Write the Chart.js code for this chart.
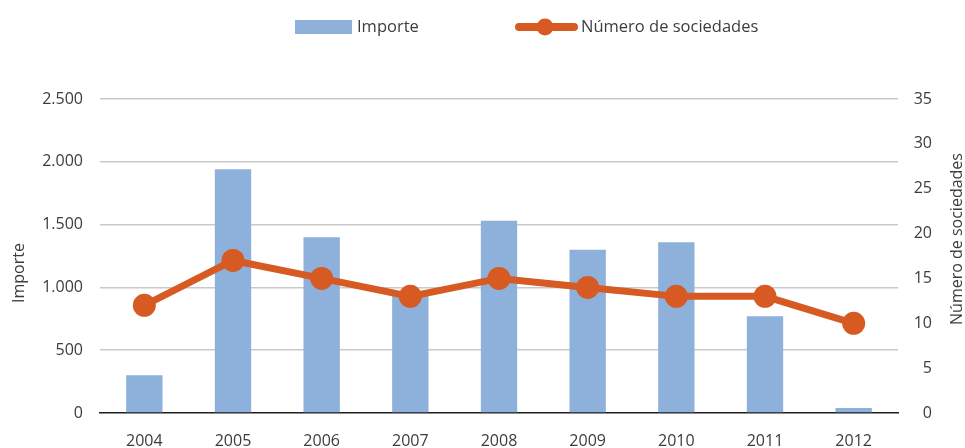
<!DOCTYPE html>
<html>
<head>
<meta charset="utf-8">
<script src="https://cdn.jsdelivr.net/npm/chart.js@4.4.1/dist/chart.umd.min.js"></script>
<style>
  html, body { margin: 0; padding: 0; background: #ffffff; }
  #wrap { width: 965px; height: 448px; position: relative; }
</style>
</head>
<body>
<div id="wrap"><canvas id="c" width="965" height="448"></canvas></div>
<script>
const years = ['2004', '2005', '2006', '2007', '2008', '2009', '2010', '2011', '2012'];
const importe = [300, 1940, 1400, 940, 1530, 1300, 1360, 770, 40];
const sociedades = [12, 17, 15, 13, 15, 14, 13, 13, 10];
const leftTicks = [0, 500, 1000, 1500, 2000, 2500];
const rightTicks = [0, 5, 10, 15, 20, 25, 30, 35];
const seriesNames = ['Importe', 'Número de sociedades'];
const axisTitles = ['Importe', 'Número de sociedades'];

const BAR = '#8db1da';
const LINE = '#d65a22';
const TEXT = '#3c3c3c';
const FONT = "'Open Sans', 'Noto Sans', sans-serif";

function fmt(v) { return String(v).replace(/\B(?=(\d{3})+(?!\d))/g, '.'); }

const decor = {
  id: 'decor',
  afterDraw(chart) {
    const ctx = chart.ctx;
    ctx.save();
    ctx.font = '16px ' + FONT;
    ctx.fillStyle = TEXT;
    ctx.textBaseline = 'middle';
    // axis titles
    ctx.save();
    ctx.translate(19, 273);
    ctx.rotate(-Math.PI / 2);
    ctx.textAlign = 'center';
    ctx.fillText(axisTitles[0], 0, 0);
    ctx.restore();
    ctx.save();
    ctx.translate(957, 239);
    ctx.rotate(-Math.PI / 2);
    ctx.textAlign = 'center';
    ctx.fillText(axisTitles[1], 0, 0);
    ctx.restore();
    // legend
    const ly = 27;
    ctx.font = '16.5px ' + FONT;
    ctx.fillStyle = BAR;
    ctx.fillRect(295, 20, 57, 14);
    ctx.fillStyle = TEXT;
    ctx.textAlign = 'left';
    ctx.fillText(seriesNames[0], 357, ly);
    ctx.strokeStyle = LINE;
    ctx.lineWidth = 8;
    ctx.lineCap = 'round';
    ctx.beginPath();
    ctx.moveTo(519, ly);
    ctx.lineTo(574, ly);
    ctx.stroke();
    ctx.fillStyle = LINE;
    ctx.beginPath();
    ctx.arc(545, ly, 8.5, 0, Math.PI * 2);
    ctx.fill();
    ctx.fillStyle = TEXT;
    ctx.fillText(seriesNames[1], 581, ly);
    ctx.restore();
  }
};

new Chart(document.getElementById('c'), {
  data: {
    labels: years,
    datasets: [
      {
        type: 'line',
        label: seriesNames[1],
        data: sociedades,
        yAxisID: 'y1',
        borderColor: LINE,
        backgroundColor: LINE,
        borderWidth: 7,
        pointRadius: 11.5,
        pointHoverRadius: 11.5,
        pointBackgroundColor: LINE,
        pointBorderWidth: 0,
        tension: 0,
        order: 0
      },
      {
        type: 'bar',
        label: seriesNames[0],
        data: importe,
        yAxisID: 'y',
        backgroundColor: BAR,
        barPercentage: 0.41,
        categoryPercentage: 1,
        order: 1
      }
    ]
  },
  options: {
    responsive: false,
    animation: false,
    events: [],
    layout: { padding: { top: 99, left: 0, right: 33, bottom: 0 } },
    plugins: { legend: { display: false }, tooltip: { enabled: false } },
    scales: {
      x: {
        position: 'bottom',
        offset: true,
        grid: { display: false, drawTicks: false },
        border: { display: true, color: '#1e1e1e', width: 1.5 },
        ticks: { color: TEXT, font: { family: FONT, size: 16 }, padding: 19, maxRotation: 0 },
        afterFit(s) { s.height = 35; }
      },
      y: {
        position: 'left',
        min: 0, max: 2500,
        afterBuildTicks(s) { s.ticks = leftTicks.map(v => ({ value: v })); },
        grid: {
          drawTicks: false,
          color: ctx => ctx.tick && ctx.tick.value === 0 ? 'rgba(0,0,0,0)' : '#c9c9c9',
          lineWidth: 1.5
        },
        border: { display: false },
        ticks: { color: TEXT, font: { family: FONT, size: 16 }, padding: 17, callback: v => fmt(v) },
        afterFit(s) { s.width = 100; }
      },
      y1: {
        position: 'right',
        min: 0, max: 35,
        afterBuildTicks(s) { s.ticks = rightTicks.map(v => ({ value: v })); },
        grid: { display: false, drawTicks: false },
        border: { display: false },
        ticks: { color: TEXT, font: { family: FONT, size: 16 }, padding: 13, crossAlign: 'far' },
        afterFit(s) { s.width = 34; }
      }
    }
  },
  plugins: [decor]
});
</script>
</body>
</html>
